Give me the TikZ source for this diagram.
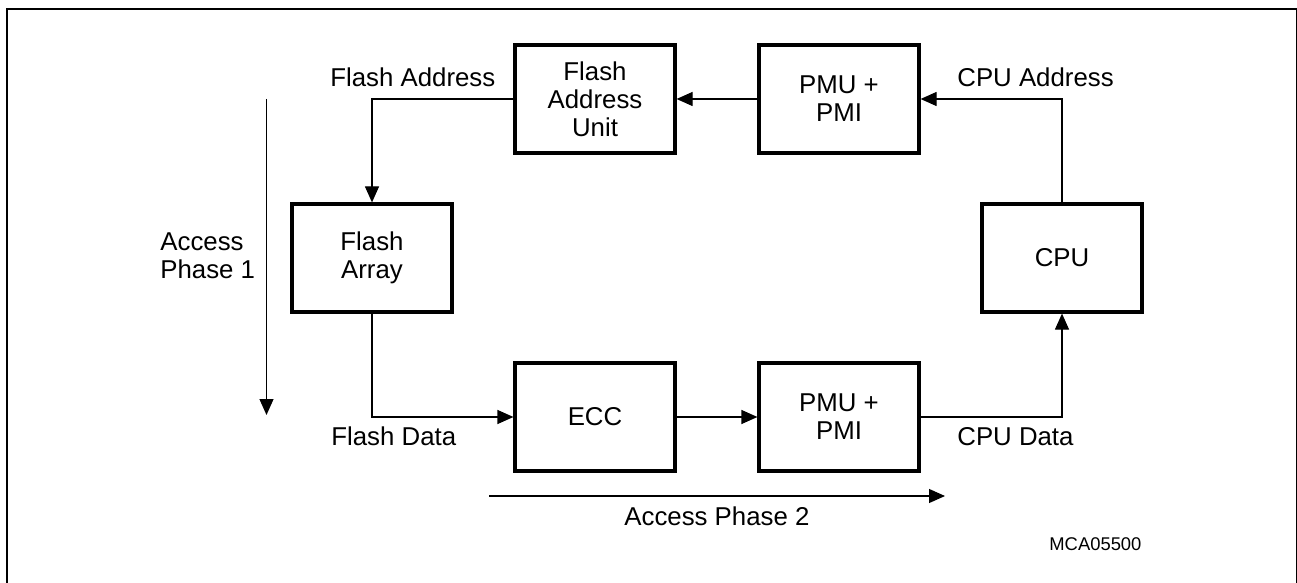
\documentclass[tikz,border=0pt]{standalone}
\usepackage{fontspec}
\setmainfont{Liberation Sans}
\usetikzlibrary{arrows.meta}

\begin{document}
\begin{tikzpicture}[
  x=0.5pt, y=-0.5pt,
  font=\fontsize{12.9}{14}\selectfont,
  block/.style={draw, line width=1.6pt, minimum width=80pt, minimum height=54pt, inner sep=0pt, align=center},
  lbl/.style={anchor=base west, inner sep=0pt},
  flow/.style={draw, -{Triangle[length=8pt,width=7pt]}, line width=0.6pt},
  hv/.style={to path={-| (\tikztotarget)}},
  vh/.style={to path={|- (\tikztotarget)}}
  ]
  \useasboundingbox (0,0) rectangle (1297,583);
  \draw[line width=1pt] (6.5,583) -- (6.5,9) -- (1296.5,9) -- (1296.5,583);

  \node[block] (NFlashAddr) at (595,99)  {Flash\\Address\\Unit};
  \node[block] (NPmuTop)    at (839,99)  {PMU +\\PMI};
  \node[block] (NFlashArr)  at (372,258) {Flash\\Array};
  \node[block] (NCpu)       at (1062,258) {CPU};
  \node[block] (NEcc)       at (595,417) {ECC};
  \node[block] (NPmuBot)    at (839,417) {PMU +\\PMI};

  \node[lbl] (LFlashAddr) at (330,87)  {Flash Address};
  \node[lbl] (LCpuAddr)   at (957,87)  {CPU Address};
  \node[lbl] (LFlashData) at (331,445) {Flash Data};
  \node[lbl] (LCpuData)   at (957,445) {CPU Data};
  \node[lbl] (LPhase2)    at (624,525) {Access Phase 2};
  \node[anchor=west, inner sep=0pt, align=left] (LPhase1) at (160,256) {Access\\Phase 1};
  \node[lbl, font=\fontsize{9.2}{11}\selectfont] (LFig) at (1049,550) {MCA05500};

  \coordinate (P1top) at (266.5,99);
  \coordinate (P1bot) at (266.5,415);
  \coordinate (P2left)  at (489,496);
  \coordinate (P2right) at (945,496);

  \path
  (NCpu.north)       edge[flow,vh] (NPmuTop.east)
  (NPmuTop.west)     edge[flow]    (NFlashAddr.east)
  (NFlashAddr.west)  edge[flow,hv] (NFlashArr.north)
  (NFlashArr.south)  edge[flow,vh] (NEcc.west)
  (NEcc.east)        edge[flow]    (NPmuBot.west)
  (NPmuBot.east)     edge[flow,hv] (NCpu.south)
  (P1top)            edge[flow]    (P1bot)
  (P2left)           edge[flow]    (P2right)
  ;
\end{tikzpicture}
\end{document}
